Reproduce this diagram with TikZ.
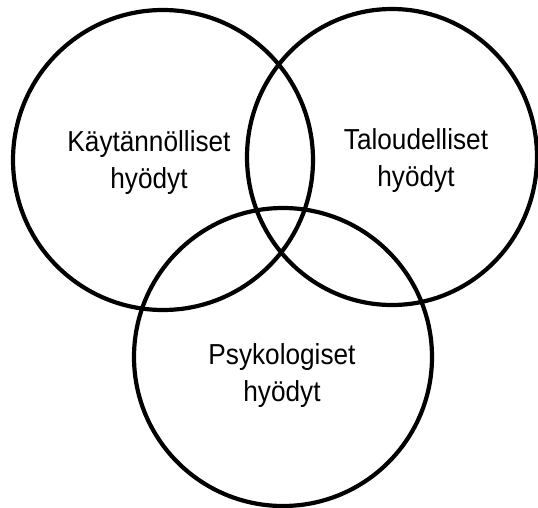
\documentclass[tikz,border=0pt]{standalone}
\usepackage{fontspec}
\setmainfont{Liberation Sans}
\begin{document}
\begin{tikzpicture}[x=1pt,y=1pt,
  ring/.style={draw=black,line width=4.2pt},
  lbl/.style={align=center,font=\fontsize{27}{37}\selectfont,inner sep=0pt}]
\useasboundingbox (0,0) rectangle (538,507);
\draw[ring] (163,347) circle[x radius=150,y radius=150];
\draw[ring] (392,350) circle[x radius=145,y radius=148];
\draw[ring] (283,150) circle[x radius=149,y radius=149];
\node[lbl] (a) at (149,344) {\scalebox{0.97}[1.07]{Käytännölliset}\\\scalebox{0.97}[1.07]{hyödyt}};
\node[lbl] (b) at (416,346) {\scalebox{0.97}[1.07]{Taloudelliset}\\\scalebox{0.97}[1.07]{hyödyt}};
\node[lbl] (c) at (282,131) {\scalebox{0.97}[1.07]{Psykologiset}\\\scalebox{0.97}[1.07]{hyödyt}};
\end{tikzpicture}
\end{document}
